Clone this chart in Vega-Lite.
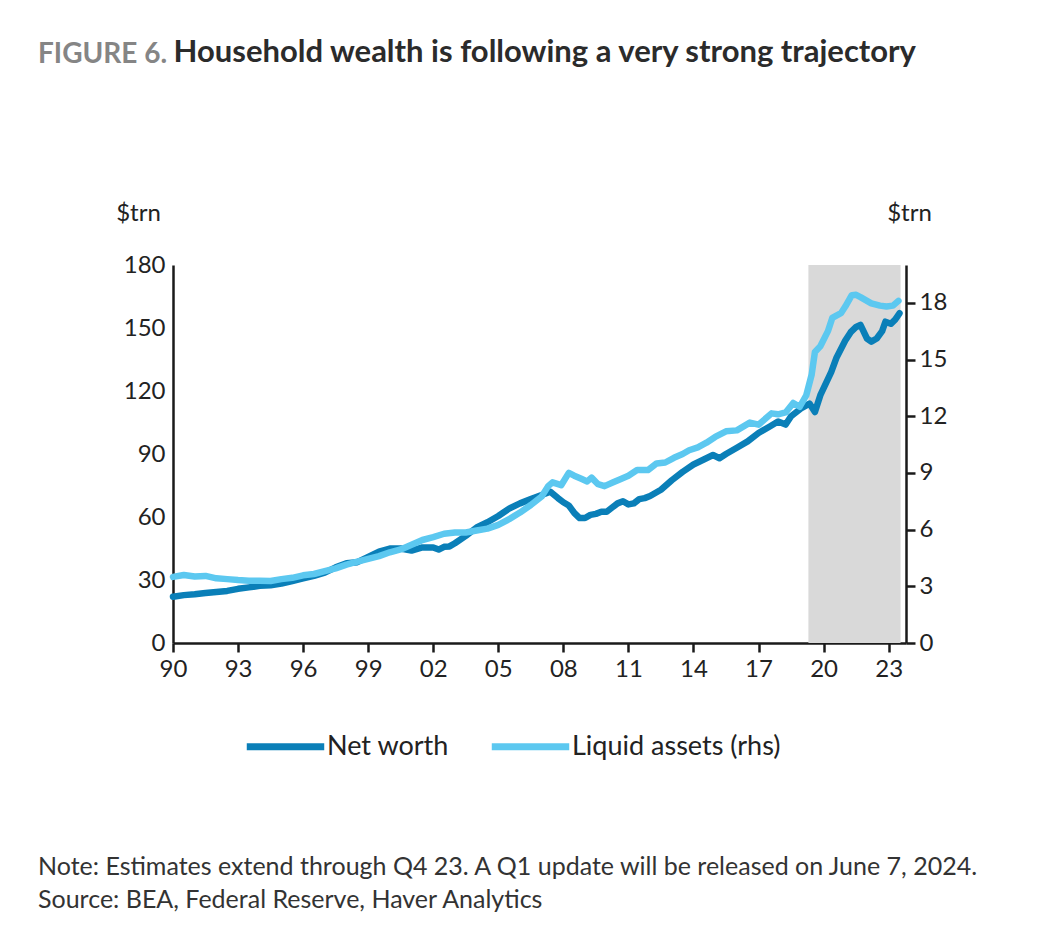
{
  "$schema": "https://vega.github.io/schema/vega-lite/v6.json",
  "background": "white",
  "autosize": {"type": "pad"},
  "padding": {"left": 38, "top": 37, "right": 10, "bottom": 10},
  "title": {
    "text": ["Note: Estimates extend through Q4 23. A Q1 update will be released on June 7, 2024.", "Source: BEA, Federal Reserve, Haver Analytics"],
    "orient": "bottom",
    "anchor": "start",
    "frame": "bounds",
    "font": "Lato",
    "fontSize": 25,
    "fontWeight": "normal",
    "color": "#333333",
    "lineHeight": 33,
    "offset": 94
  },
  "config": {
    "font": "Lato",
    "view": {"stroke": null},
    "axis": {
      "grid": false,
      "domainColor": "#1a1a1a",
      "domainWidth": 2.5,
      "tickColor": "#1a1a1a",
      "tickWidth": 2.5,
      "labelColor": "#222222",
      "labelFont": "Lato",
      "labelFontSize": 24,
      "titleFont": "Lato",
      "titleFontSize": 24,
      "titleFontWeight": "normal",
      "titleColor": "#222222"
    },
    "legend": {"labelFont": "Lato", "labelColor": "#222222"}
  },
  "datasets": {
    "nw": [
      {"t": 1990.0, "v": 22.0, "s": "Net worth"},
      {"t": 1990.5, "v": 22.8, "s": "Net worth"},
      {"t": 1991.0, "v": 23.2, "s": "Net worth"},
      {"t": 1991.5, "v": 23.8, "s": "Net worth"},
      {"t": 1992.0, "v": 24.3, "s": "Net worth"},
      {"t": 1992.5, "v": 24.8, "s": "Net worth"},
      {"t": 1993.0, "v": 25.8, "s": "Net worth"},
      {"t": 1993.5, "v": 26.5, "s": "Net worth"},
      {"t": 1994.0, "v": 27.2, "s": "Net worth"},
      {"t": 1994.5, "v": 27.5, "s": "Net worth"},
      {"t": 1995.0, "v": 28.3, "s": "Net worth"},
      {"t": 1995.5, "v": 29.5, "s": "Net worth"},
      {"t": 1996.0, "v": 30.8, "s": "Net worth"},
      {"t": 1996.5, "v": 32.0, "s": "Net worth"},
      {"t": 1997.0, "v": 33.5, "s": "Net worth"},
      {"t": 1997.5, "v": 36.0, "s": "Net worth"},
      {"t": 1998.0, "v": 38.0, "s": "Net worth"},
      {"t": 1998.5, "v": 38.5, "s": "Net worth"},
      {"t": 1999.0, "v": 41.0, "s": "Net worth"},
      {"t": 1999.5, "v": 43.5, "s": "Net worth"},
      {"t": 2000.0, "v": 45.0, "s": "Net worth"},
      {"t": 2000.5, "v": 45.0, "s": "Net worth"},
      {"t": 2001.0, "v": 44.0, "s": "Net worth"},
      {"t": 2001.5, "v": 45.5, "s": "Net worth"},
      {"t": 2002.0, "v": 45.5, "s": "Net worth"},
      {"t": 2002.25, "v": 44.5, "s": "Net worth"},
      {"t": 2002.5, "v": 45.8, "s": "Net worth"},
      {"t": 2002.75, "v": 46.0, "s": "Net worth"},
      {"t": 2003.0, "v": 47.5, "s": "Net worth"},
      {"t": 2003.5, "v": 51.0, "s": "Net worth"},
      {"t": 2004.0, "v": 55.0, "s": "Net worth"},
      {"t": 2004.5, "v": 57.5, "s": "Net worth"},
      {"t": 2005.0, "v": 60.5, "s": "Net worth"},
      {"t": 2005.5, "v": 64.0, "s": "Net worth"},
      {"t": 2006.0, "v": 66.5, "s": "Net worth"},
      {"t": 2006.5, "v": 68.5, "s": "Net worth"},
      {"t": 2007.0, "v": 70.5, "s": "Net worth"},
      {"t": 2007.4, "v": 72.0, "s": "Net worth"},
      {"t": 2007.75, "v": 69.0, "s": "Net worth"},
      {"t": 2008.0, "v": 67.0, "s": "Net worth"},
      {"t": 2008.25, "v": 65.5, "s": "Net worth"},
      {"t": 2008.5, "v": 62.0, "s": "Net worth"},
      {"t": 2008.75, "v": 59.5, "s": "Net worth"},
      {"t": 2009.0, "v": 59.5, "s": "Net worth"},
      {"t": 2009.25, "v": 61.0, "s": "Net worth"},
      {"t": 2009.5, "v": 61.5, "s": "Net worth"},
      {"t": 2009.75, "v": 62.5, "s": "Net worth"},
      {"t": 2010.0, "v": 62.5, "s": "Net worth"},
      {"t": 2010.25, "v": 64.5, "s": "Net worth"},
      {"t": 2010.5, "v": 66.5, "s": "Net worth"},
      {"t": 2010.75, "v": 67.5, "s": "Net worth"},
      {"t": 2011.0, "v": 66.0, "s": "Net worth"},
      {"t": 2011.25, "v": 66.5, "s": "Net worth"},
      {"t": 2011.5, "v": 68.5, "s": "Net worth"},
      {"t": 2011.75, "v": 69.0, "s": "Net worth"},
      {"t": 2012.0, "v": 70.0, "s": "Net worth"},
      {"t": 2012.5, "v": 73.0, "s": "Net worth"},
      {"t": 2013.0, "v": 77.5, "s": "Net worth"},
      {"t": 2013.5, "v": 81.5, "s": "Net worth"},
      {"t": 2014.0, "v": 85.0, "s": "Net worth"},
      {"t": 2014.5, "v": 87.5, "s": "Net worth"},
      {"t": 2014.9, "v": 89.5, "s": "Net worth"},
      {"t": 2015.2, "v": 88.0, "s": "Net worth"},
      {"t": 2015.5, "v": 90.0, "s": "Net worth"},
      {"t": 2016.0, "v": 93.0, "s": "Net worth"},
      {"t": 2016.5, "v": 96.0, "s": "Net worth"},
      {"t": 2017.0, "v": 100.0, "s": "Net worth"},
      {"t": 2017.5, "v": 103.0, "s": "Net worth"},
      {"t": 2017.9, "v": 105.5, "s": "Net worth"},
      {"t": 2018.25, "v": 104.0, "s": "Net worth"},
      {"t": 2018.5, "v": 108.0, "s": "Net worth"},
      {"t": 2018.75, "v": 110.0, "s": "Net worth"},
      {"t": 2019.0, "v": 112.0, "s": "Net worth"},
      {"t": 2019.35, "v": 114.0, "s": "Net worth"},
      {"t": 2019.6, "v": 110.0, "s": "Net worth"},
      {"t": 2019.85, "v": 118.0, "s": "Net worth"},
      {"t": 2020.1, "v": 123.5, "s": "Net worth"},
      {"t": 2020.35, "v": 129.0, "s": "Net worth"},
      {"t": 2020.6, "v": 136.0, "s": "Net worth"},
      {"t": 2021.0, "v": 144.0, "s": "Net worth"},
      {"t": 2021.25, "v": 148.0, "s": "Net worth"},
      {"t": 2021.5, "v": 150.5, "s": "Net worth"},
      {"t": 2021.7, "v": 151.5, "s": "Net worth"},
      {"t": 2022.0, "v": 145.0, "s": "Net worth"},
      {"t": 2022.2, "v": 143.5, "s": "Net worth"},
      {"t": 2022.45, "v": 145.0, "s": "Net worth"},
      {"t": 2022.7, "v": 148.5, "s": "Net worth"},
      {"t": 2022.85, "v": 153.0, "s": "Net worth"},
      {"t": 2023.1, "v": 152.0, "s": "Net worth"},
      {"t": 2023.3, "v": 154.0, "s": "Net worth"},
      {"t": 2023.5, "v": 157.0, "s": "Net worth"}
    ],
    "la": [
      {"t": 1990.0, "v": 3.5, "s": "Liquid assets (rhs)"},
      {"t": 1990.5, "v": 3.6, "s": "Liquid assets (rhs)"},
      {"t": 1991.0, "v": 3.52, "s": "Liquid assets (rhs)"},
      {"t": 1991.5, "v": 3.55, "s": "Liquid assets (rhs)"},
      {"t": 1992.0, "v": 3.42, "s": "Liquid assets (rhs)"},
      {"t": 1992.5, "v": 3.38, "s": "Liquid assets (rhs)"},
      {"t": 1993.0, "v": 3.33, "s": "Liquid assets (rhs)"},
      {"t": 1993.5, "v": 3.3, "s": "Liquid assets (rhs)"},
      {"t": 1994.0, "v": 3.3, "s": "Liquid assets (rhs)"},
      {"t": 1994.5, "v": 3.28, "s": "Liquid assets (rhs)"},
      {"t": 1995.0, "v": 3.38, "s": "Liquid assets (rhs)"},
      {"t": 1995.5, "v": 3.45, "s": "Liquid assets (rhs)"},
      {"t": 1996.0, "v": 3.58, "s": "Liquid assets (rhs)"},
      {"t": 1996.5, "v": 3.65, "s": "Liquid assets (rhs)"},
      {"t": 1997.0, "v": 3.8, "s": "Liquid assets (rhs)"},
      {"t": 1997.5, "v": 3.95, "s": "Liquid assets (rhs)"},
      {"t": 1998.0, "v": 4.15, "s": "Liquid assets (rhs)"},
      {"t": 1998.5, "v": 4.3, "s": "Liquid assets (rhs)"},
      {"t": 1999.0, "v": 4.45, "s": "Liquid assets (rhs)"},
      {"t": 1999.5, "v": 4.6, "s": "Liquid assets (rhs)"},
      {"t": 2000.0, "v": 4.8, "s": "Liquid assets (rhs)"},
      {"t": 2000.5, "v": 4.95, "s": "Liquid assets (rhs)"},
      {"t": 2001.0, "v": 5.2, "s": "Liquid assets (rhs)"},
      {"t": 2001.5, "v": 5.45, "s": "Liquid assets (rhs)"},
      {"t": 2002.0, "v": 5.6, "s": "Liquid assets (rhs)"},
      {"t": 2002.5, "v": 5.78, "s": "Liquid assets (rhs)"},
      {"t": 2003.0, "v": 5.85, "s": "Liquid assets (rhs)"},
      {"t": 2003.5, "v": 5.85, "s": "Liquid assets (rhs)"},
      {"t": 2004.0, "v": 5.95, "s": "Liquid assets (rhs)"},
      {"t": 2004.5, "v": 6.05, "s": "Liquid assets (rhs)"},
      {"t": 2005.0, "v": 6.25, "s": "Liquid assets (rhs)"},
      {"t": 2005.5, "v": 6.55, "s": "Liquid assets (rhs)"},
      {"t": 2006.0, "v": 6.9, "s": "Liquid assets (rhs)"},
      {"t": 2006.5, "v": 7.3, "s": "Liquid assets (rhs)"},
      {"t": 2007.0, "v": 7.75, "s": "Liquid assets (rhs)"},
      {"t": 2007.3, "v": 8.3, "s": "Liquid assets (rhs)"},
      {"t": 2007.5, "v": 8.5, "s": "Liquid assets (rhs)"},
      {"t": 2007.9, "v": 8.35, "s": "Liquid assets (rhs)"},
      {"t": 2008.25, "v": 9.0, "s": "Liquid assets (rhs)"},
      {"t": 2008.5, "v": 8.85, "s": "Liquid assets (rhs)"},
      {"t": 2008.8, "v": 8.7, "s": "Liquid assets (rhs)"},
      {"t": 2009.1, "v": 8.55, "s": "Liquid assets (rhs)"},
      {"t": 2009.3, "v": 8.75, "s": "Liquid assets (rhs)"},
      {"t": 2009.6, "v": 8.4, "s": "Liquid assets (rhs)"},
      {"t": 2009.9, "v": 8.3, "s": "Liquid assets (rhs)"},
      {"t": 2010.3, "v": 8.5, "s": "Liquid assets (rhs)"},
      {"t": 2010.6, "v": 8.65, "s": "Liquid assets (rhs)"},
      {"t": 2011.0, "v": 8.85, "s": "Liquid assets (rhs)"},
      {"t": 2011.4, "v": 9.15, "s": "Liquid assets (rhs)"},
      {"t": 2011.9, "v": 9.15, "s": "Liquid assets (rhs)"},
      {"t": 2012.3, "v": 9.5, "s": "Liquid assets (rhs)"},
      {"t": 2012.7, "v": 9.55, "s": "Liquid assets (rhs)"},
      {"t": 2013.1, "v": 9.8, "s": "Liquid assets (rhs)"},
      {"t": 2013.5, "v": 10.0, "s": "Liquid assets (rhs)"},
      {"t": 2013.8, "v": 10.2, "s": "Liquid assets (rhs)"},
      {"t": 2014.2, "v": 10.35, "s": "Liquid assets (rhs)"},
      {"t": 2014.6, "v": 10.6, "s": "Liquid assets (rhs)"},
      {"t": 2015.0, "v": 10.9, "s": "Liquid assets (rhs)"},
      {"t": 2015.5, "v": 11.2, "s": "Liquid assets (rhs)"},
      {"t": 2016.0, "v": 11.25, "s": "Liquid assets (rhs)"},
      {"t": 2016.6, "v": 11.66, "s": "Liquid assets (rhs)"},
      {"t": 2017.0, "v": 11.55, "s": "Liquid assets (rhs)"},
      {"t": 2017.6, "v": 12.15, "s": "Liquid assets (rhs)"},
      {"t": 2017.9, "v": 12.1, "s": "Liquid assets (rhs)"},
      {"t": 2018.25, "v": 12.2, "s": "Liquid assets (rhs)"},
      {"t": 2018.6, "v": 12.7, "s": "Liquid assets (rhs)"},
      {"t": 2018.9, "v": 12.5, "s": "Liquid assets (rhs)"},
      {"t": 2019.2, "v": 13.1, "s": "Liquid assets (rhs)"},
      {"t": 2019.45, "v": 14.2, "s": "Liquid assets (rhs)"},
      {"t": 2019.6, "v": 15.4, "s": "Liquid assets (rhs)"},
      {"t": 2019.85, "v": 15.7, "s": "Liquid assets (rhs)"},
      {"t": 2020.2, "v": 16.5, "s": "Liquid assets (rhs)"},
      {"t": 2020.4, "v": 17.2, "s": "Liquid assets (rhs)"},
      {"t": 2020.8, "v": 17.45, "s": "Liquid assets (rhs)"},
      {"t": 2021.0, "v": 17.8, "s": "Liquid assets (rhs)"},
      {"t": 2021.3, "v": 18.4, "s": "Liquid assets (rhs)"},
      {"t": 2021.5, "v": 18.42, "s": "Liquid assets (rhs)"},
      {"t": 2021.7, "v": 18.3, "s": "Liquid assets (rhs)"},
      {"t": 2022.2, "v": 17.97, "s": "Liquid assets (rhs)"},
      {"t": 2022.6, "v": 17.85, "s": "Liquid assets (rhs)"},
      {"t": 2022.9, "v": 17.8, "s": "Liquid assets (rhs)"},
      {"t": 2023.2, "v": 17.85, "s": "Liquid assets (rhs)"},
      {"t": 2023.45, "v": 18.1, "s": "Liquid assets (rhs)"}
    ],
    "shade": [{"a": 2019.3, "b": 2023.55}]
  },
  "vconcat": [
    {
      "width": 733,
      "height": 378,
      "title": {
        "text": "FIGURE 6.",
        "subtitle": "\u200b\u00a0\u00a0\u00a0\u00a0\u00a0\u00a0\u00a0\u00a0\u00a0\u00a0\u00a0\u00a0\u00a0\u00a0\u00a0\u00a0\u00a0\u00a0Household wealth is following a very strong trajectory",
        "orient": "top",
        "anchor": "start",
        "frame": "group",
        "dx": -135,
        "font": "Lato",
        "fontSize": 28,
        "fontWeight": "bold",
        "color": "#858585",
        "subtitleFont": "Lato",
        "subtitleFontSize": 31,
        "subtitleFontWeight": "bold",
        "subtitleColor": "#2b2b2b",
        "subtitlePadding": -30.5,
        "offset": 129
      },
      "layer": [
        {
          "data": {"name": "shade"},
          "mark": {"type": "rect", "color": "#d9d9d9"},
          "encoding": {
            "x": {"field": "a", "type": "quantitative", "scale": {"domain": [1990, 2023.8], "nice": false, "zero": false}},
            "x2": {"field": "b"}
          }
        },
        {
          "data": {"name": "nw"},
          "mark": {"type": "line", "strokeWidth": 6.5, "strokeJoin": "round", "strokeCap": "round"},
          "encoding": {
            "x": {
              "field": "t", "type": "quantitative",
              "scale": {"domain": [1990, 2023.8], "nice": false, "zero": false},
              "axis": {
                "title": null,
                "values": [1990, 1993, 1996, 1999, 2002, 2005, 2008, 2011, 2014, 2017, 2020, 2023],
                "labelExpr": "substring(toString(datum.value), 2)",
                "tickSize": 9,
                "labelPadding": 5,
                "labelFlush": false,
                "labelOverlap": false
              }
            },
            "y": {
              "field": "v", "type": "quantitative",
              "scale": {"domain": [0, 180], "nice": false},
              "axis": {
                "orient": "left",
                "title": "$trn",
                "titleAngle": 0,
                "titleAlign": "center",
                "titleBaseline": "middle",
                "titleX": -35,
                "titleY": -52,
                "values": [0, 30, 60, 90, 120, 150, 180],
                "ticks": false,
                "labelPadding": 8
              }
            },
            "color": {
              "field": "s", "type": "nominal",
              "scale": {"domain": ["Net worth", "Liquid assets (rhs)"], "range": ["#0a7fb8", "#5cc8f0"]},
              "legend": {
                "title": null,
                "orient": "none",
                "legendX": 70,
                "legendY": 439,
                "direction": "horizontal",
                "symbolType": "stroke",
                "symbolSize": 6000,
                "symbolStrokeWidth": 7,
                "labelFontSize": 27,
                "labelOffset": -1,
                "labelLimit": 500,
                "columnPadding": 28
              }
            }
          }
        },
        {
          "data": {"name": "la"},
          "mark": {"type": "line", "strokeWidth": 6.5, "strokeJoin": "round", "strokeCap": "round"},
          "encoding": {
            "x": {"field": "t", "type": "quantitative", "scale": {"domain": [1990, 2023.8], "nice": false, "zero": false}},
            "y": {
              "field": "v", "type": "quantitative",
              "scale": {"domain": [0, 20], "nice": false},
              "axis": {
                "orient": "right",
                "title": "$trn",
                "titleAngle": 0,
                "titleAlign": "center",
                "titleBaseline": "middle",
                "titleX": 3,
                "titleY": -52,
                "values": [0, 3, 6, 9, 12, 15, 18],
                "tickSize": 9,
                "labelPadding": 4
              }
            },
            "color": {"field": "s", "type": "nominal"}
          }
        }
      ],
      "resolve": {"scale": {"y": "independent"}}
    }
  ]
}
